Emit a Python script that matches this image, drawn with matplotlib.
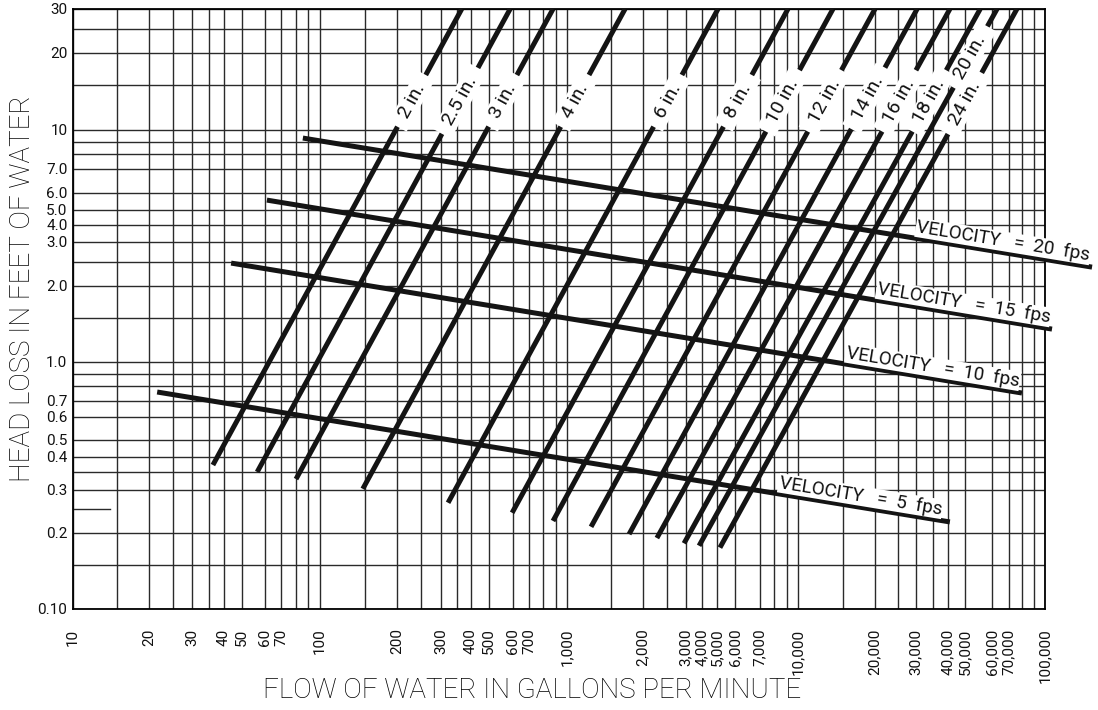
import numpy as np
import matplotlib
matplotlib.use("Agg")
import matplotlib.pyplot as plt

plt.rcParams['font.family'] = ['Roboto', 'DejaVu Sans']

################################ axis ticks ################################
flow_ticks = [10, 20, 30, 40, 50, 60, 70, 100, 200, 300, 400, 500, 600, 700,
              1000, 2000, 3000, 4000, 5000, 6000, 7000, 10000, 20000, 30000,
              40000, 50000, 60000, 70000, 100000]
flow_labels = ["{:,}".format(v) for v in flow_ticks]
flow_minor = [15, 25, 35, 80, 90, 150, 250, 350, 800, 900, 1500, 2500,
              8000, 9000, 15000, 25000, 35000, 80000, 90000]

head_ticks = [0.1, 0.2, 0.3, 0.4, 0.5, 0.6, 0.7, 1.0, 2.0, 3.0, 4.0, 5.0,
              6.0, 7.0, 10, 20, 30]
head_labels = ['0.10', '0.2', '0.3', '0.4', '0.5', '0.6', '0.7', '1.0', '2.0',
               '3.0', '4.0', '5.0', '6.0', '7.0', '10', '20', '30']
head_minor = [0.15, 0.35, 0.8, 0.9, 1.5, 2.5, 8, 9, 15, 25]

################################ pipe lines ################################
pipe_size = ['2', '2.5', '3', '4', '6', '8', '10', '12', '14', '16', '18', '20', '24']
pipe_flow_lo = [36.2, 56.4, 80.3, 147, 321, 596, 877, 1245, 1762, 2280, 2945, 3795, 5150]
pipe_head_lo = [0.373, 0.351, 0.330, 0.303, 0.266, 0.242, 0.224, 0.212, 0.198,
                0.191, 0.182, 0.178, 0.175]
pipe_flow_hi = [366, 587, 877, 1698, 5050, 9100, 13700, 20000, 30300, 41000,
                55400, 62800, 75700]
pipe_head_hi = [30] * 13
pipe_label_head = [13, 13, 13, 13, 13, 13, 13, 13, 13.3, 13, 13, 19.3, 12.7]

################################ velocity lines ############################
velocity = [5, 10, 15, 20]
vel_flow_lo = [21.6, 43.7, 61.1, 85.5]
vel_head_lo = [0.760, 2.47, 5.56, 9.29]
vel_flow_hi = [41000, 79600, 107200, 159500]
vel_head_hi = [0.222, 0.753, 1.35, 2.38]

################ hand drawn chart: the log axes are not uniform #############
# screen column / row of each printed tick (plus extrapolation ends)
x_anchor_val = [1] + flow_ticks + [1e6]
x_anchor_pos = [-179, 73, 149, 192, 224, 242, 265, 281, 320, 397, 441, 471, 489,
                513, 529, 567, 643, 686, 702, 717, 735, 760, 798, 875, 916,
                948, 965, 992, 1009, 1045, 1277]
y_anchor_val = [0.01] + head_ticks + [300]
y_anchor_row = [861, 609, 533, 490, 457, 440, 417, 401, 362, 286, 242, 225, 210,
                193, 169, 130, 53, 9, -241]


def make_scale(vals, pos):
    lv = np.log10(vals)
    pos = np.asarray(pos, float)

    def fwd(v):
        v = np.clip(np.asarray(v, float), 1e-12, None)
        return np.interp(np.log10(v), lv, pos)

    def inv(p):
        return 10 ** np.interp(p, pos, lv)
    return fwd, inv


W, H = 1098, 710
fig = plt.figure(figsize=(W / 100, H / 100), dpi=100)
ax = fig.add_axes([73 / W, (H - 609) / H, (1045 - 73) / W, 600 / H])
ax.set_xscale('function', functions=make_scale(x_anchor_val, x_anchor_pos))
ax.set_yscale('function', functions=make_scale(y_anchor_val, -np.array(y_anchor_row, float)))
ax.set_xlim(10, 100000)
ax.set_ylim(0.1, 30)

ax.set_xticks(flow_ticks)
ax.set_xticklabels(flow_labels, rotation=90, fontsize=11)
ax.set_xticks(flow_minor, minor=True)
ax.set_yticks(head_ticks)
ax.set_yticklabels(head_labels, fontsize=11)
ax.set_yticks(head_minor, minor=True)
ax.tick_params(axis='both', which='both', length=0, labelcolor='#111111')
ax.tick_params(axis='x', pad=14)
ax.tick_params(axis='y', pad=4)
ax.grid(True, which='both', color='#2a2a2a', linewidth=1.0)
ax.set_axisbelow(True)
for s in ax.spines.values():
    s.set_color('black')
    s.set_linewidth(1.3)
# short stub at 0.25 on the left edge
ax.plot([10, 14], [0.25, 0.25], color='#2a2a2a', linewidth=1.0, zorder=1)

lc = '#141414'
for i in range(len(pipe_size)):
    xs = [pipe_flow_lo[i], pipe_flow_hi[i]]
    ys = [pipe_head_lo[i], pipe_head_hi[i]]
    ax.plot(xs, ys, color=lc, linewidth=3.6, solid_capstyle='butt', zorder=3)
    p0 = ax.transData.transform((xs[0], ys[0]))
    p1 = ax.transData.transform((xs[1], ys[1]))
    yl = ax.transData.transform((xs[0], pipe_label_head[i]))[1]
    t = (yl - p0[1]) / (p1[1] - p0[1])
    pt = ax.transData.inverted().transform(p0 + t * (p1 - p0))
    ang = np.degrees(np.arctan2(p1[1] - p0[1], p1[0] - p0[0]))
    ax.text(pt[0], pt[1], '  ' + pipe_size[i] + ' in.  ', rotation=ang,
            rotation_mode='anchor', ha='center', va='center', fontsize=14,
            color='#111111',
            bbox=dict(facecolor='white', edgecolor='none', pad=1.0), zorder=5)

for i in range(len(velocity)):
    xs = [vel_flow_lo[i], vel_flow_hi[i]]
    ys = [vel_head_lo[i], vel_head_hi[i]]
    ax.plot(xs, ys, color=lc, linewidth=3.6, solid_capstyle='butt', zorder=4,
            clip_on=False)
    p0 = ax.transData.transform((xs[0], ys[0]))
    p1 = ax.transData.transform((xs[1], ys[1]))
    d = p1 - p0
    ang = np.arctan2(d[1], d[0])
    pt = ax.transData.inverted().transform(p0 + 0.885 * d)
    off = 8 * np.array([-np.sin(ang), np.cos(ang)])
    ax.annotate('VELOCITY   =  ' + str(velocity[i]) + '  fps', xy=pt,
                xytext=off, textcoords='offset points', rotation=np.degrees(ang),
                rotation_mode='anchor', ha='center', va='center', fontsize=13.5,
                color='#111111',
                bbox=dict(facecolor='white', edgecolor='none', pad=0.5),
                zorder=6, annotation_clip=False)

ax.set_ylabel('HEAD LOSS IN FEET OF WATER', fontsize=20, va='center',
              fontweight='light')
ax.yaxis.set_label_coords((23 - 73) / 972, (609 - 289) / 600)
ax.set_xlabel('FLOW OF WATER IN GALLONS PER MINUTE', fontsize=20, va='center',
              fontweight='light')
ax.xaxis.set_label_coords((532 - 73) / 972, (609 - 690) / 600)

plt.savefig('out.png', dpi=100)
